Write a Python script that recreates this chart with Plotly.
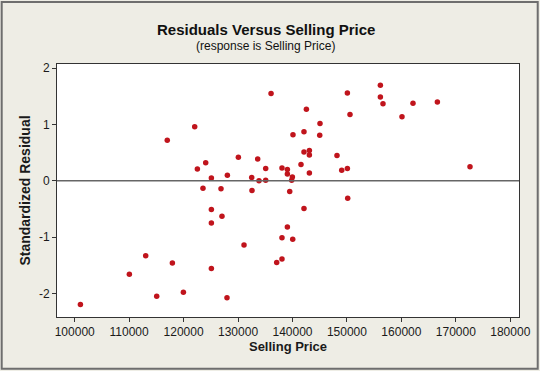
import plotly.graph_objects as go

selling_price = [101050, 110040, 113040, 115060, 117000, 117940, 119960, 122040, 122530, 123560,
                 124060, 125100, 125100, 125100, 125100, 126870, 127050, 127970, 128040, 130060,
                 131100, 132510, 132560, 133610, 133850, 135080, 135080, 136060, 137100, 138070,
                 138070, 138070, 139060, 139060, 139060, 139980, 139850, 139490, 140040, 140090,
                 141560, 142110, 142110, 142110, 142550, 143100, 143100, 143100, 145050, 145000,
                 148170, 149040, 150080, 150560, 150080, 150140, 156140, 156140, 156620, 160110,
                 162130, 166610, 172600]
std_residual = [-2.20, -1.66, -1.33, -2.05, 0.72, -1.46, -1.98, 0.96, 0.21, -0.13,
                0.32, 0.05, -0.51, -0.75, -1.56, -0.14, -0.63, -2.08, 0.10, 0.42,
                -1.14, 0.06, -0.17, 0.39, 0.00, 0.22, 0.01, 1.55, -1.45, 0.23,
                -1.01, -1.39, 0.20, 0.12, -0.82, 0.07, 0.01, -0.19, -1.04, 0.82,
                0.29, 0.87, 0.51, -0.49, 1.27, 0.54, 0.46, 0.14, 1.02, 0.81,
                0.45, 0.19, 1.56, 1.18, 0.22, -0.31, 1.70, 1.49, 1.37, 1.14,
                1.38, 1.40, 0.25]

x_ticks = [100000, 110000, 120000, 130000, 140000, 150000, 160000, 170000, 180000]
y_ticks = [-2, -1, 0, 1, 2]

title_text = "Residuals Versus Selling Price"
subtitle_text = "(response is Selling Price)"
x_title = "Selling Price"
y_title = "Standardized Residual"

FONT = "Liberation Sans, Arial, sans-serif"

fig = go.Figure()
fig.add_trace(go.Scatter(
    x=selling_price, y=std_residual, mode="markers",
    marker=dict(color="#C0141C", size=5.5, line=dict(width=0)),
    hoverinfo="x+y", showlegend=False,
))

fig.update_layout(
    width=540, height=371,
    margin=dict(l=57, r=21, t=64, b=54),
    paper_bgcolor="#EEEDE5",
    plot_bgcolor="#FFFFFF",
    font=dict(family=FONT, size=12, color="#1A1A1A"),
    xaxis=dict(
        range=[96750, 181600], tickvals=x_ticks, ticktext=[str(v) for v in x_ticks],
        showgrid=False, zeroline=False, showline=True, linecolor="#333333", linewidth=1,
        mirror=True, ticks="outside", ticklen=4, tickcolor="#333333",
        tickfont=dict(size=12, family=FONT),
        title=dict(text="<b>" + x_title + "</b>", font=dict(size=13, family=FONT), standoff=3),
        automargin=False,
    ),
    yaxis=dict(
        range=[-2.42, 2.076], tickvals=y_ticks, ticktext=[str(v) for v in y_ticks],
        showgrid=False, zeroline=False, showline=True, linecolor="#333333", linewidth=1,
        mirror=True, ticks="outside", ticklen=4, tickcolor="#333333",
        tickfont=dict(size=12, family=FONT),
        title=dict(text="<b>" + y_title + "</b>", font=dict(size=14, family=FONT), standoff=5),
        automargin=False,
    ),
    shapes=[
        dict(type="line", xref="paper", yref="y", x0=0, x1=1, y0=0, y1=0,
             line=dict(color="#666666", width=1.5)),
        dict(type="rect", xref="paper", yref="paper",
             x0=-0.1197, x1=1.0405, y0=-0.2041, y1=1.2448,
             line=dict(color="#6E6E6E", width=2), layer="below"),
    ],
    annotations=[
        dict(text="<b>" + title_text + "</b>", xref="paper", yref="paper",
             x=(266 - 57.3) / 462, y=(317.3 - 29) / 253.3, showarrow=False,
             xanchor="center", yanchor="middle", font=dict(size=15, family=FONT, color="#111111")),
        dict(text=subtitle_text, xref="paper", yref="paper",
             x=(266 - 57.3) / 462, y=(317.3 - 46) / 253.3, showarrow=False,
             xanchor="center", yanchor="middle", font=dict(size=12, family=FONT, color="#111111")),
    ],
)

fig.write_html("out.html", config={"displayModeBar": False},
               post_script="document.body.style.margin='0';document.body.style.padding='0';")
